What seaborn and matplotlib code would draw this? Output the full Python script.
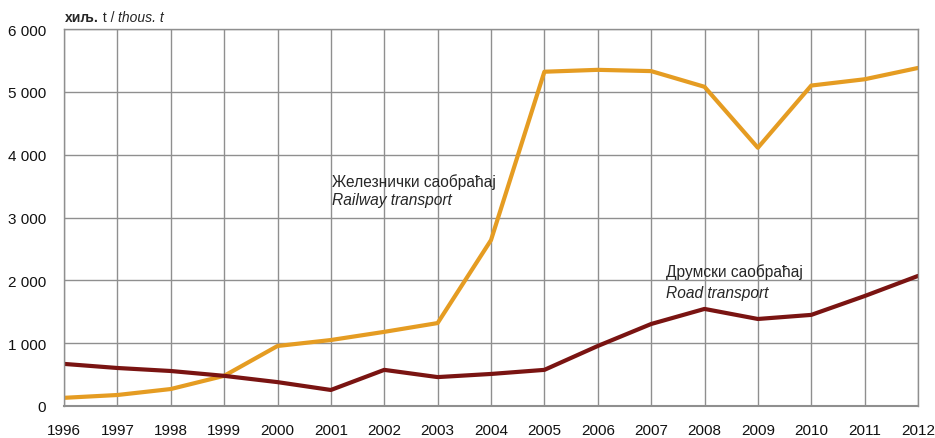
import matplotlib
matplotlib.use("Agg")
import matplotlib.pyplot as plt
import seaborn as sns
import pandas as pd

years = list(range(1996, 2013))
railway = [130, 175, 270, 480, 955, 1050, 1180, 1320, 2640, 5320, 5350, 5330, 5080, 4110, 5100, 5200, 5380]
road = [670, 605, 557, 480, 380, 255, 575, 460, 510, 575, 955, 1305, 1545, 1385, 1450, 1750, 2070]
y_ticks = [0, 1000, 2000, 3000, 4000, 5000, 6000]

sns.set_style("white")
plt.rcParams['font.family'] = ['Liberation Sans Narrow', 'Liberation Sans', 'DejaVu Sans']

df = pd.DataFrame({"year": years * 2,
                   "value": railway + road,
                   "mode": ["rail"] * len(years) + ["road"] * len(years)})

fig = plt.figure(figsize=(9.35, 4.39), dpi=100)
ax = fig.add_axes([64 / 935, 32 / 439, 854 / 935, 377 / 439])

sns.lineplot(data=df, x="year", y="value", hue="mode",
             palette={"rail": "#E59C22", "road": "#7A1412"},
             linewidth=3, legend=False, ax=ax)

ax.set_xlim(1996, 2012)
ax.set_ylim(0, 6000)
ax.set_xticks(years)
ax.set_yticks(y_ticks)
ax.set_yticklabels([f"{v:,}".replace(",", " ") for v in y_ticks])
ax.tick_params(axis="both", length=0, labelsize=11, colors="#111111")
ax.tick_params(axis="y", pad=13)
ax.tick_params(axis="x", pad=12)
ax.grid(True, color="#8f8f8f", linewidth=1)
ax.set_axisbelow(True)
for side, sp in ax.spines.items():
    sp.set_color("#8f8f8f")
    sp.set_linewidth(1)
ax.spines["bottom"].set_linewidth(1.5)
ax.set_xlabel("")
ax.set_ylabel("")

# unit label above the plot: bold / regular / italic pieces
t1 = fig.text(65 / 935, 1 - 18 / 439, "хиљ.", fontsize=10, va="center", ha="left", weight="bold")
t2 = ax.annotate(" t / ", xy=(1, 0), xycoords=t1, va="bottom", ha="left", fontsize=10)
ax.annotate("thous. t", xy=(1, 0), xycoords=t2, va="bottom", ha="left",
            fontsize=10, style="italic")

ax.text(2001.03, 3580, "Железнички саобраћај", fontsize=11.2, va="center")
ax.text(2001.03, 3290, "Railway transport", fontsize=11.2, va="center", style="italic")
ax.text(2007.27, 2150, "Друмски саобраћај", fontsize=11.2, va="center")
ax.text(2007.27, 1800, "Road transport", fontsize=11.2, va="center", style="italic")

fig.savefig("out.png", dpi=100)
